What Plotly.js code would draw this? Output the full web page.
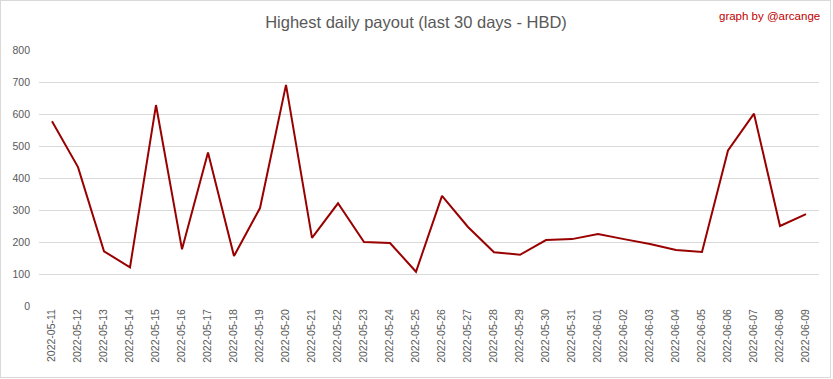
<!DOCTYPE html>
<html>
<head>
<meta charset="utf-8">
<script src="https://cdn.plot.ly/plotly-3.0.1.min.js"></script>
<style>
  html, body { margin: 0; padding: 0; background: #fff; }
  #wrap { position: relative; width: 833px; height: 379px; }
  #chart { width: 833px; height: 379px; }
  #frame { position: absolute; left: 0px; top: 0px; width: 829px; height: 376px; border: 1px solid #d9d9d9; pointer-events: none; }
</style>
</head>
<body>
<div id="wrap">
  <div id="chart"></div>
  <div id="frame"></div>
</div>
<script>
const dates = [
  "2022-05-11","2022-05-12","2022-05-13","2022-05-14","2022-05-15","2022-05-16",
  "2022-05-17","2022-05-18","2022-05-19","2022-05-20","2022-05-21","2022-05-22",
  "2022-05-23","2022-05-24","2022-05-25","2022-05-26","2022-05-27","2022-05-28",
  "2022-05-29","2022-05-30","2022-05-31","2022-06-01","2022-06-02","2022-06-03",
  "2022-06-04","2022-06-05","2022-06-06","2022-06-07","2022-06-08","2022-06-09"
];
const payout = [
  577, 434, 171, 121, 628, 177,
  480, 156, 306, 691, 213, 321,
  200, 197, 107, 344, 247, 168,
  160, 206, 209, 225, 209, 194,
  175, 169, 486, 601, 250, 287
];
const yTicks = [0, 100, 200, 300, 400, 500, 600, 700, 800];

const trace = {
  x: dates,
  y: payout,
  type: "scatter",
  mode: "lines",
  line: { color: "#990000", width: 2 },
  hoverinfo: "x+y"
};

const layout = {
  width: 833,
  height: 379,
  margin: { l: 39, r: 14, t: 50, b: 73 },
  paper_bgcolor: "#ffffff",
  plot_bgcolor: "#ffffff",
  showlegend: false,
  font: { family: "Liberation Sans, Arial, sans-serif", color: "#595959" },
  title: {
    text: "Highest daily payout (last 30 days - HBD)",
    font: { family: "Liberation Sans, Arial, sans-serif", size: 16.5, color: "#595959" },
    x: 416 / 833, xanchor: "center", xref: "container",
    y: 1 - 22 / 379, yanchor: "middle", yref: "container"
  },
  xaxis: {
    type: "category",
    range: [-0.5, dates.length - 0.5],
    tickangle: -90,
    tickfont: { size: 10.5, color: "#595959" },
    showgrid: false,
    zeroline: false,
    showline: false,
    ticks: "",
    ticklen: 0,
    automargin: false
  },
  yaxis: {
    range: [0, 800],
    tickvals: yTicks,
    ticktext: yTicks.map(String),
    tickfont: { size: 10.5, color: "#595959" },
    showgrid: true,
    gridcolor: "#d9d9d9",
    gridwidth: 1,
    zeroline: false,
    showline: false,
    ticks: "",
    ticklabelstandoff: 8,
    automargin: false
  },
  annotations: [{
    text: "graph by @arcange",
    xref: "paper", yref: "paper",
    x: (822 - 39) / 780, y: 1 + (50 - 16) / 256,
    xanchor: "right", yanchor: "middle",
    showarrow: false,
    font: { family: "Liberation Sans, Arial, sans-serif", size: 11.5, color: "#c00000" }
  }]
};

Plotly.newPlot("chart", [trace], layout, { displayModeBar: false, staticPlot: true });
</script>
</body>
</html>
